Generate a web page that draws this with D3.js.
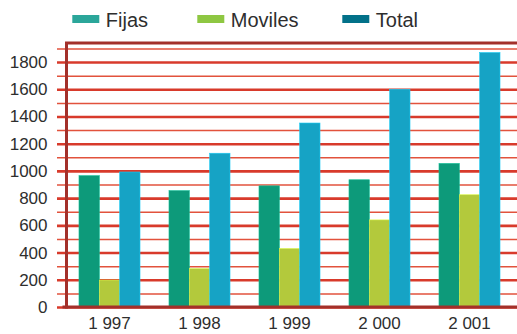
<!DOCTYPE html>
<html>
<head>
<meta charset="utf-8">
<script src="https://cdn.jsdelivr.net/npm/d3@7"></script>
<style>
  html, body { margin: 0; padding: 0; background: #ffffff; }
  svg { display: block; }
  text { font-family: "Liberation Sans", Arial, sans-serif; fill: #2e2e2e; }
</style>
</head>
<body>
<svg id="chart" width="517" height="334"></svg>
<script>
// Line counts per year (thousands)
const years   = ["1 997", "1 998", "1 999", "2 000", "2 001"];
const series  = ["Fijas", "Moviles", "Total"];
const fijas   = [965, 855, 890, 935, 1055];
const moviles = [198, 282, 430, 640, 825];
const total   = [992, 1130, 1352, 1600, 1870];
const majorTicks = [0, 200, 400, 600, 800, 1000, 1200, 1400, 1600, 1800];
const minorTicks = [100, 300, 500, 700, 900, 1100, 1300, 1500, 1700, 1900];

const values = { Fijas: fijas, Moviles: moviles, Total: total };
const barColor = { Fijas: "#0d9a7a", Moviles: "#b3c93c", Total: "#16a3c5" };
const keyColor = { Fijas: "#2ba69a", Moviles: "#8ec742", Total: "#027189" };

const svg = d3.select("#chart");
const W = 517;
const frameLeft = 66.5, gridLeft = 57, plotBottom = 307, plotTop = 43;

const y = d3.scaleLinear().domain([0, 1940]).range([plotBottom, plotTop]);
const x = d3.scaleBand().domain(years).range([64.5, 514.5])
  .paddingInner(0.322).paddingOuter(0.161);
const xs = d3.scaleBand().domain(series).range([0, x.bandwidth()]);

// minor gridlines (odd hundreds)
svg.append("g")
  .attr("transform", `translate(${gridLeft},0)`)
  .call(d3.axisLeft(y).tickValues(minorTicks).tickSize(-(W - gridLeft)).tickFormat(""))
  .call(g => g.select(".domain").remove())
  .call(g => g.selectAll("line").attr("stroke", "#e2523c").attr("stroke-width", 1.5));

// major gridlines with value labels
svg.append("g")
  .attr("transform", `translate(${gridLeft},0)`)
  .call(d3.axisLeft(y).tickValues(majorTicks).tickSize(-(W - gridLeft)).tickPadding(9.5).tickFormat(d3.format("d")))
  .call(g => g.select(".domain").remove())
  .call(g => g.selectAll("line").attr("stroke", "#d83a2b").attr("stroke-width", 2.6))
  .call(g => g.selectAll("text").attr("font-size", 17).attr("fill", "#2e2e2e")
    .attr("font-family", "Liberation Sans, Arial, sans-serif"));

// bars
const groups = svg.append("g").selectAll("g")
  .data(years)
  .join("g")
  .attr("transform", d => `translate(${x(d)},0)`);

groups.selectAll("rect")
  .data((d, i) => series.map(s => ({ s, v: values[s][i] })))
  .join("rect")
  .attr("x", d => xs(d.s))
  .attr("width", xs.bandwidth())
  .attr("y", d => y(d.v))
  .attr("height", d => y(0) - y(d.v))
  .attr("fill", d => barColor[d.s])
  .attr("stroke", d => d3.color(barColor[d.s]).brighter(0.6))
  .attr("stroke-width", 0.6);

// frame: left, top and bottom borders
const frame = svg.append("g").attr("stroke", "#a3302a").attr("stroke-width", 3).attr("fill", "none");
frame.append("line").attr("x1", frameLeft).attr("x2", frameLeft).attr("y1", plotTop).attr("y2", plotBottom + 1.5);
frame.append("line").attr("x1", frameLeft - 1.5).attr("x2", W).attr("y1", plotTop).attr("y2", plotTop);
frame.append("line").attr("x1", frameLeft - 4).attr("x2", W).attr("y1", plotBottom).attr("y2", plotBottom);

// category axis
svg.append("g")
  .attr("transform", `translate(0,${plotBottom + 4})`)
  .call(d3.axisBottom(x).tickSize(0).tickPadding(6))
  .call(g => g.select(".domain").remove())
  .call(g => g.selectAll("text").attr("font-size", 17).attr("fill", "#2e2e2e")
    .attr("font-family", "Liberation Sans, Arial, sans-serif"));

// legend
const legendX = [72.3, 197.3, 342.3];
const legend = svg.append("g").selectAll("g")
  .data(series)
  .join("g")
  .attr("transform", (d, i) => `translate(${legendX[i]},0)`);
legend.append("rect").attr("x", 0).attr("y", 15).attr("width", 27).attr("height", 8)
  .attr("fill", d => keyColor[d]);
legend.append("text").attr("x", 33.5).attr("y", 26.7).attr("font-size", 20).text(d => d);
</script>
</body>
</html>
